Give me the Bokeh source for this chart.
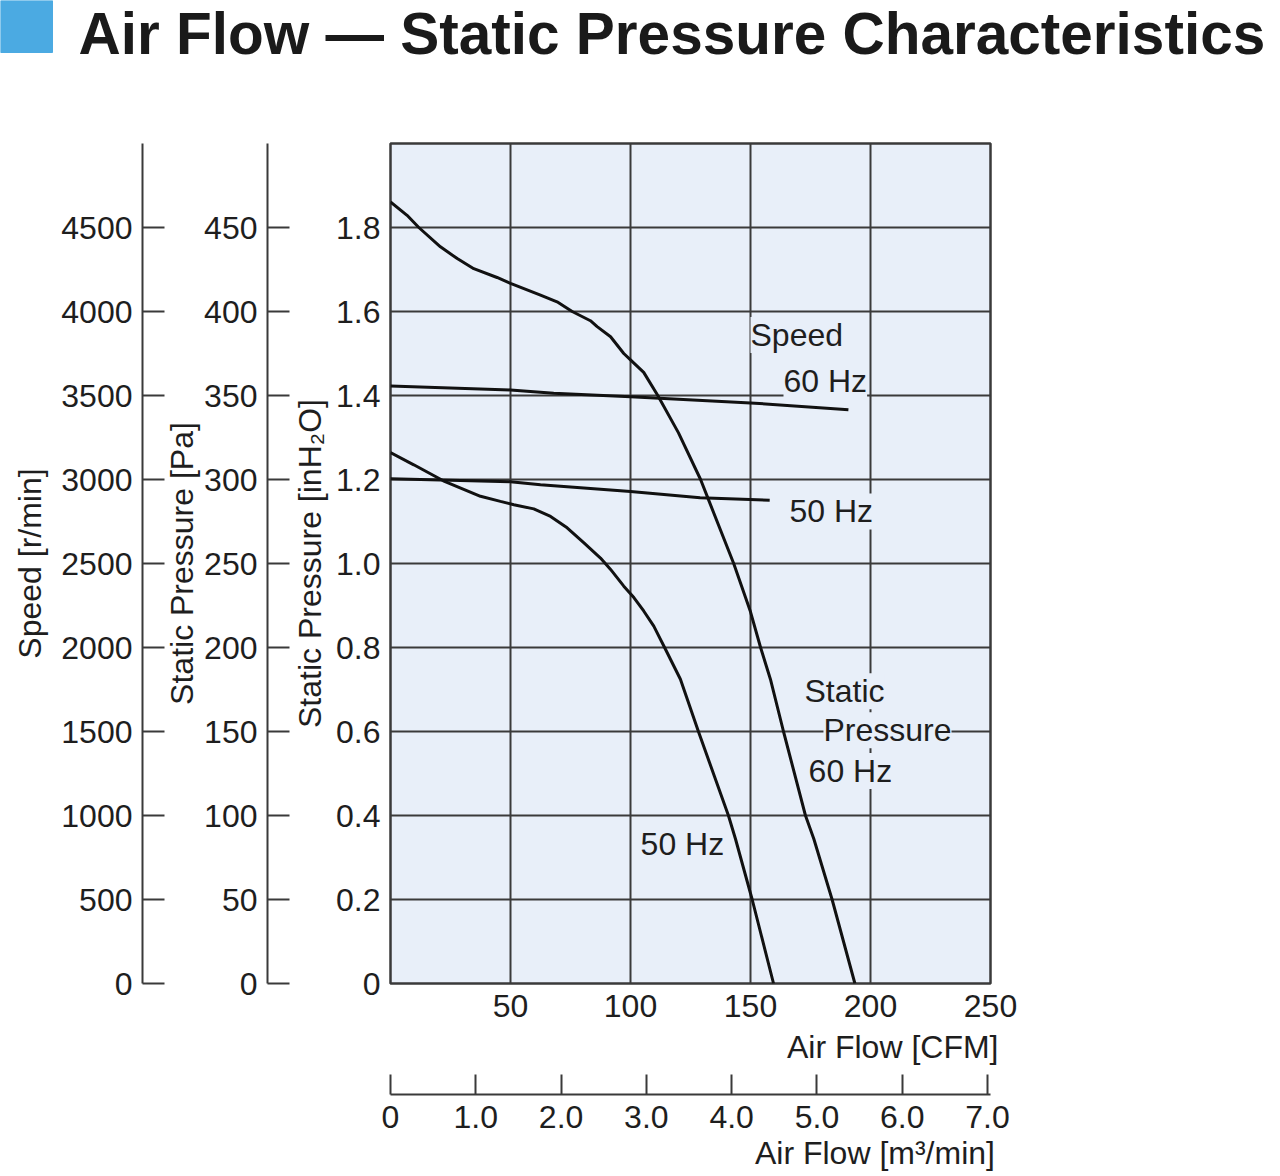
from bokeh.plotting import figure
from bokeh.models import Range1d, LinearAxis, FixedTicker, PrintfTickFormatter, Label
from bokeh.layouts import column
from bokeh.embed import file_html
from bokeh.resources import INLINE
from bokeh.core.properties import value

TITLE = "Air Flow — Static Pressure Characteristics"

# ---- data ----
# Static pressure, 60 Hz: air flow [CFM] -> static pressure [inH2O]
sp60_cfm = [0, 6.9, 11.8, 20.8, 27.8, 34.7, 44.4, 50, 62.5, 69.4, 75.7, 83.3, 86.1, 91.7, 97.2,
            100, 105.5, 111.25, 120, 129.2, 132.5, 143, 150, 154.2, 158.3, 163.75, 172.9, 176.4, 184, 193.5]
sp60_inh2o = [1.861, 1.829, 1.80, 1.754, 1.726, 1.702, 1.681, 1.667, 1.639, 1.623, 1.60, 1.578, 1.564,
              1.54, 1.50, 1.485, 1.455, 1.401, 1.311, 1.20, 1.152, 1.0, 0.885, 0.80, 0.7245, 0.60, 0.40,
              0.344, 0.20, 0.0]
# Static pressure, 50 Hz
sp50_cfm = [0, 9.7, 22, 37.5, 45.8, 51.4, 59.7, 66.7, 73.6, 80.6, 87.5, 91.7, 97.2, 101.4, 105.5,
            109.7, 114.2, 120.8, 128.3, 140.8, 143.75, 150.7, 159.6]
sp50_inh2o = [1.264, 1.235, 1.197, 1.160, 1.148, 1.140, 1.130, 1.112, 1.085, 1.049, 1.013, 0.986,
              0.946, 0.919, 0.887, 0.851, 0.80, 0.7245, 0.60, 0.40, 0.344, 0.20, 0.0]
# Speed curves: air flow [CFM] -> speed [r/min]
spd60_cfm = [0, 50, 68, 100, 150, 190.8]
spd60_rpm = [3557, 3533, 3513, 3493, 3456, 3415]
spd50_cfm = [0, 50, 62.5, 100, 129, 158]
spd50_rpm = [3005, 2987, 2969, 2929, 2892, 2876]

# axis ticks
cfm_ticks = [50, 100, 150, 200, 250]
m3_ticks = [0, 1, 2, 3, 4, 5, 6, 7]
inh2o_ticks = [0, 0.2, 0.4, 0.6, 0.8, 1.0, 1.2, 1.4, 1.6, 1.8]
pa_ticks = [0, 50, 100, 150, 200, 250, 300, 350, 400, 450]
rpm_ticks = [0, 500, 1000, 1500, 2000, 2500, 3000, 3500, 4000, 4500]

# curve annotations: (text, CFM, inH2O)
ann_text = ["Speed", "60 Hz", "50 Hz", "Static", "Pressure", "60 Hz", "50 Hz"]
ann_x = [150, 163.75, 166.25, 172.5, 180.4, 174.2, 104.2]
ann_y = [1.544, 1.435, 1.124, 0.696, 0.603, 0.506, 0.333]

FONT = "Liberation Sans"
FS = "32px"
TXT = "#1e1e1e"
LINE = "#3a3a3a"
BG = "#E8EFF9"
W = 1276
TH = 70
NB = "\u00a0"

# ---- title strip ----
t = figure(width=W, height=TH, x_range=Range1d(0, W), y_range=Range1d(0, TH),
           toolbar_location=None, output_backend="svg", min_border=0,
           x_axis_type=None, y_axis_type=None, outline_line_color=None)
t.frame_align = False
t.xgrid.visible = False
t.ygrid.visible = False
t.quad(left=[0], right=[52], bottom=[TH - 52], top=[TH], color="#4BAAE2")
t.text(x=[78], y=[TH - 33], text=[TITLE], text_font=value(FONT), text_font_style="bold",
       text_font_size="58.5px", text_color="#1a1a1a", text_baseline="middle")

# ---- main chart ----
p = figure(width=W, height=1173 - TH, x_range=Range1d(0, 250), y_range=Range1d(0, 2.0),
           toolbar_location=None, output_backend="svg",
           min_border_left=390, min_border_right=W - 990, min_border_top=143 - TH,
           min_border_bottom=188,
           background_fill_color=BG, border_fill_color="white",
           outline_line_color=LINE, outline_line_width=2.5)
p.frame_align = False
p.extra_y_ranges = {"pa": Range1d(0, 500), "rpm": Range1d(0, 5000)}
p.extra_x_ranges = {"m3": Range1d(0, 7.035)}

def style(ax):
    ax.major_label_text_font = FONT
    ax.major_label_text_font_size = FS
    ax.major_label_text_color = TXT
    ax.axis_label_text_font = FONT
    ax.axis_label_text_font_size = FS
    ax.axis_label_text_font_style = "normal"
    ax.axis_label_text_color = TXT
    ax.minor_tick_line_color = None

def spacer(standoff, **kw):
    ax = LinearAxis(ticker=FixedTicker(ticks=[]), **kw)
    style(ax)
    ax.axis_line_color = None
    ax.major_tick_line_color = None
    ax.major_tick_in = 0
    ax.major_tick_out = 0
    ax.major_label_standoff = 0
    ax.axis_label = " "
    ax.axis_label_standoff = standoff
    return ax

# inH2O axis (primary, left)
ya = p.yaxis[0]
style(ya)
ya.ticker = FixedTicker(ticks=inh2o_ticks)
ya.formatter = PrintfTickFormatter(format="%.1f")
ya.major_label_overrides = {0: "0"}
ya.axis_line_color = None
ya.major_tick_line_color = None
ya.major_tick_in = 0
ya.major_tick_out = 0
ya.major_label_standoff = 10
ya.axis_label = "Static Pressure [inH\u2082O]"
ya.axis_label_standoff = 5
p.add_layout(spacer(-17), "left")

# Pa axis
pa = LinearAxis(y_range_name="pa", ticker=FixedTicker(ticks=pa_ticks))
style(pa)
pa.axis_line_color = LINE
pa.axis_line_width = 2
pa.major_tick_line_color = LINE
pa.major_tick_line_width = 2
pa.major_tick_in = 22
pa.major_tick_out = 0
pa.major_label_standoff = 10
pa.axis_label = "Static Pressure [Pa]"
pa.axis_label_standoff = 1
p.add_layout(pa, "left")
p.add_layout(spacer(-20), "left")

# Speed axis
sp = LinearAxis(y_range_name="rpm", ticker=FixedTicker(ticks=rpm_ticks))
style(sp)
sp.axis_line_color = LINE
sp.axis_line_width = 2
sp.major_tick_line_color = LINE
sp.major_tick_line_width = 2
sp.major_tick_in = 22
sp.major_tick_out = 0
sp.major_label_standoff = 10
sp.axis_label = "Speed [r/min]"
sp.axis_label_standoff = 10
p.add_layout(sp, "left")

# CFM axis (primary, below)
xa = p.xaxis[0]
style(xa)
xa.ticker = FixedTicker(ticks=cfm_ticks)
xa.axis_line_color = None
xa.major_tick_line_color = None
xa.major_tick_in = 0
xa.major_tick_out = 0
xa.major_label_standoff = 11
xa.axis_label = "Air Flow [CFM]" + NB * 22
xa.axis_label_standoff = 9
xa.axis_label_align = "end"
p.add_layout(spacer(-12), "below")

# m3/min axis
m3 = LinearAxis(x_range_name="m3", ticker=FixedTicker(ticks=m3_ticks))
style(m3)
m3.formatter = PrintfTickFormatter(format="%.1f")
m3.major_label_overrides = {0: "0"}
m3.axis_line_color = LINE
m3.axis_line_width = 2
m3.major_tick_line_color = LINE
m3.major_tick_line_width = 2
m3.major_tick_in = 20
m3.major_tick_out = 0
m3.major_label_standoff = 11
m3.axis_label = "Air Flow [m\u00b3/min]" + NB * 26
m3.axis_label_standoff = 4
m3.axis_label_align = "end"
p.add_layout(m3, "below")

# grid
for g in (p.xgrid[0], p.ygrid[0]):
    g.grid_line_color = LINE
    g.grid_line_width = 2

# curves
p.line(sp60_cfm, sp60_inh2o, line_color="#111111", line_width=3)
p.line(sp50_cfm, sp50_inh2o, line_color="#111111", line_width=3)
p.line(spd60_cfm, spd60_rpm, y_range_name="rpm", line_color="#111111", line_width=3)
p.line(spd50_cfm, spd50_rpm, y_range_name="rpm", line_color="#111111", line_width=3)

# curve annotations
for txt, x, y in zip(ann_text, ann_x, ann_y):
    p.add_layout(Label(x=x, y=y, text=txt, text_font=FONT, text_font_size=FS, text_color=TXT,
                       text_align="left", text_baseline="middle",
                       background_fill_color=BG))

layout = column(t, p, spacing=0)
open("out.html", "w").write(file_html(layout, INLINE))
